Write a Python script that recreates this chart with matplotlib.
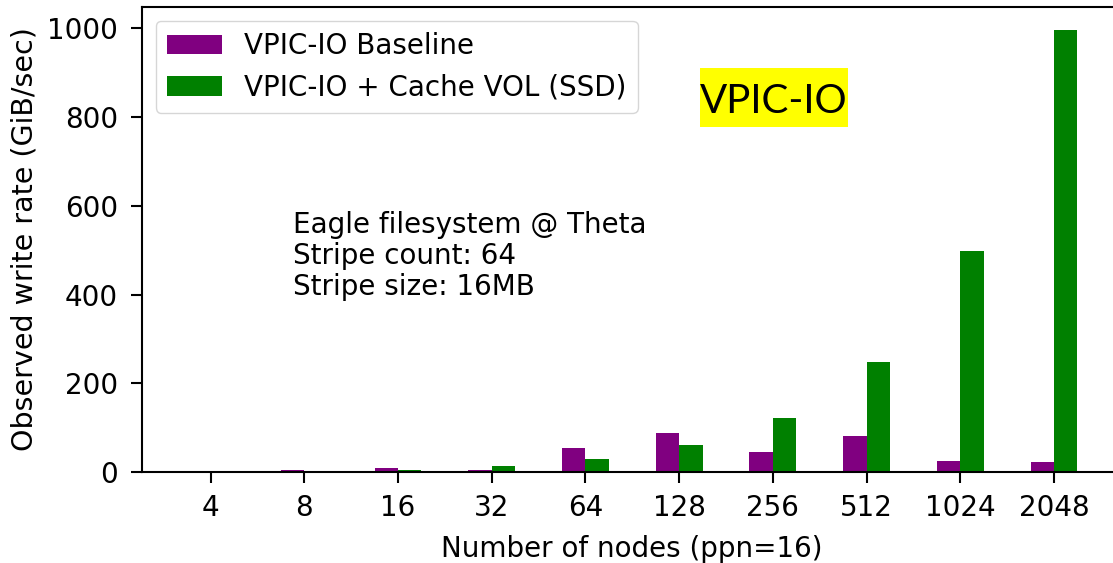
import matplotlib.pyplot as plt
from matplotlib.patches import Rectangle
import numpy as np

# Data
nodes = ['4', '8', '16', '32', '64', '128', '256', '512', '1024', '2048']
baseline = [3, 5.5, 8.5, 5.5, 54, 87, 44, 81, 24, 22]
cache_ssd = [0.5, 3, 5.5, 14, 29, 60, 122, 247, 499, 995]

fig = plt.figure(figsize=(11.13, 5.63), dpi=100)
# axes runs past the right edge of the picture, like the cropped original
ax = fig.add_axes([0.1273, 0.1616, 0.8807, 0.826])

x = np.arange(len(nodes))
w = 0.25
ax.bar(x - w / 2, baseline, w, color='purple', label='VPIC-IO Baseline')
ax.bar(x + w / 2, cache_ssd, w, color='green', label='VPIC-IO + Cache VOL (SSD)')

fs = 20
ax.set_xticks(x)
ax.set_xticklabels(nodes, fontsize=fs)
ax.set_yticks([0, 200, 400, 600, 800, 1000])
ax.tick_params(axis='y', labelsize=fs, pad=9)
ax.tick_params(axis='x', pad=8)
ax.tick_params(length=8, width=1.5)
for s in ax.spines.values():
    s.set_linewidth(1.5)
ax.set_ylim(0, 1048)
ax.set_xlim(-0.736, 9.725)

ax.set_xlabel('Number of nodes (ppn=16)', fontsize=fs, labelpad=9)
ax.set_ylabel('Observed write rate (GiB/sec)', fontsize=20.5, labelpad=6)

ax.legend(loc='upper left', fontsize=fs, borderaxespad=0.5)

ax.text(0.154, 0.562, 'Eagle filesystem @ Theta\nStripe count: 64\nStripe size: 16MB',
        transform=ax.transAxes, fontsize=fs, va='top', ha='left', linespacing=1.15)

# yellow highlight box behind the title-like label
fig.patches.append(Rectangle((0.629, 0.7744), 0.133, 0.1048, transform=fig.transFigure,
                             facecolor='yellow', edgecolor='none', zorder=5))
fig.text(0.6955, 0.7993, 'VPIC-IO', family='Lato', fontsize=29, ha='center', va='baseline',
         zorder=6)

fig.savefig('out.png', dpi=100)
